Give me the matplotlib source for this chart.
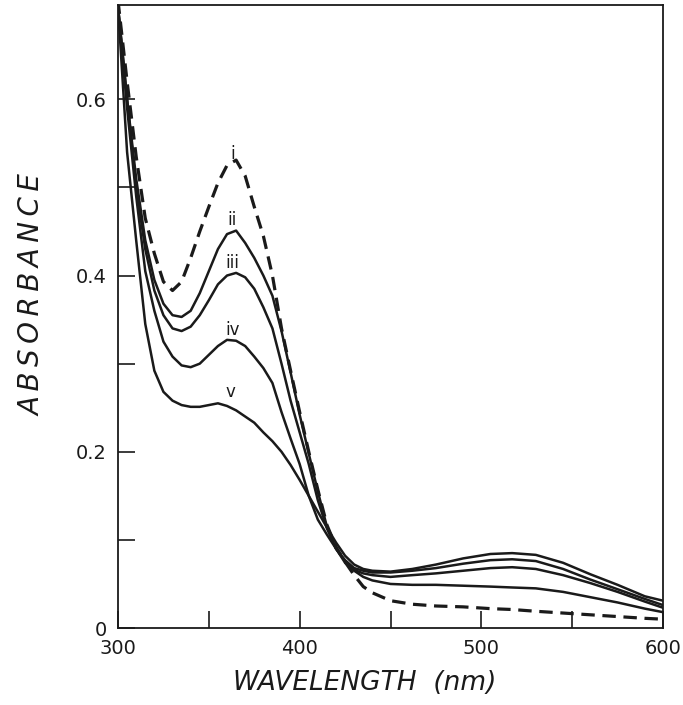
import matplotlib
matplotlib.use("Agg")
import matplotlib.pyplot as plt
from matplotlib.ticker import FixedLocator

# wavelengths (nm) and absorbance
wl = [300, 305, 310, 315, 320, 325, 330, 335, 340, 345, 350, 355, 360, 365,
      370, 375, 380, 385, 390, 395, 400, 405, 410, 415, 420, 425, 430, 435,
      440, 450, 462, 475, 490, 505, 517, 530, 545, 560, 575, 590, 600]

curve_i = [0.712, 0.62, 0.535, 0.465, 0.425, 0.393, 0.383, 0.393, 0.42, 0.45,
           0.478, 0.505, 0.525, 0.531, 0.513, 0.478, 0.445, 0.40, 0.34, 0.292,
           0.245, 0.20, 0.157, 0.117, 0.092, 0.075, 0.06, 0.047, 0.04, 0.031,
           0.027, 0.025, 0.024, 0.022, 0.021, 0.019, 0.017, 0.015, 0.013, 0.011, 0.01]
curve_ii = [0.705, 0.60, 0.51, 0.44, 0.395, 0.368, 0.355, 0.353, 0.36, 0.38,
            0.405, 0.43, 0.447, 0.451, 0.437, 0.42, 0.40, 0.377, 0.337, 0.29,
            0.242, 0.198, 0.155, 0.115, 0.09, 0.076, 0.065, 0.058, 0.054, 0.05,
            0.049, 0.049, 0.048, 0.047, 0.046, 0.045, 0.041, 0.035, 0.029, 0.022, 0.018]
curve_iii = [0.705, 0.60, 0.50, 0.43, 0.383, 0.355, 0.34, 0.337, 0.342, 0.355,
             0.372, 0.39, 0.40, 0.403, 0.398, 0.385, 0.364, 0.34, 0.30, 0.258,
             0.222, 0.186, 0.145, 0.113, 0.09, 0.074, 0.066, 0.062, 0.06, 0.058,
             0.06, 0.062, 0.065, 0.068, 0.069, 0.067, 0.06, 0.051, 0.041, 0.03, 0.023]
curve_iv = [0.705, 0.59, 0.49, 0.405, 0.36, 0.325, 0.308, 0.298, 0.296, 0.30,
            0.31, 0.32, 0.327, 0.326, 0.32, 0.308, 0.295, 0.278, 0.245, 0.215,
            0.186, 0.15, 0.123, 0.106, 0.09, 0.077, 0.068, 0.065, 0.063, 0.063,
            0.065, 0.068, 0.073, 0.077, 0.078, 0.076, 0.067, 0.055, 0.044, 0.033, 0.026]
curve_v = [0.705, 0.54, 0.44, 0.345, 0.292, 0.268, 0.258, 0.253, 0.251, 0.251,
           0.253, 0.255, 0.252, 0.247, 0.24, 0.233, 0.222, 0.212, 0.2, 0.185,
           0.168, 0.15, 0.132, 0.114, 0.097, 0.082, 0.072, 0.067, 0.065, 0.064,
           0.067, 0.072, 0.079, 0.084, 0.085, 0.083, 0.074, 0.061, 0.049, 0.036, 0.031]

curve_names = ["i", "ii", "iii", "iv", "v"]
label_wl = [363, 363, 363, 363, 362]
label_abs = [0.538, 0.463, 0.414, 0.338, 0.268]

fig = plt.figure(figsize=(6.83, 7.05), dpi=100)
ax = fig.add_axes([0.1728, 0.1092, 0.7979, 0.8837])

ink = "#1a1a1a"
ax.plot(wl, curve_i, color=ink, lw=2.3, dashes=(4.2, 2.4),
        dash_capstyle="butt", dash_joinstyle="round")
for ys in (curve_ii, curve_iii, curve_iv, curve_v):
    ax.plot(wl, ys, color=ink, lw=1.8, solid_joinstyle="round")

for name, x, y in zip(curve_names, label_wl, label_abs):
    ax.text(x, y, name, ha="center", va="center", fontsize=12, color=ink)

ax.set_xlim(300, 600)
ax.set_ylim(0, 0.707)

ax.xaxis.set_major_locator(FixedLocator([300, 400, 500, 600]))
ax.xaxis.set_minor_locator(FixedLocator([350, 450, 550]))
ax.yaxis.set_major_locator(FixedLocator([0, 0.2, 0.4, 0.6]))
ax.yaxis.set_minor_locator(FixedLocator([0.1, 0.3, 0.5]))
ax.set_yticklabels(["0", "0.2", "0.4", "0.6"])

ax.tick_params(which="both", direction="in", length=12, width=1.2, color=ink,
               labelsize=14, labelcolor=ink)
ax.tick_params(axis="x", which="both", pad=8)
ax.tick_params(axis="y", which="both", pad=8)
ax.tick_params(top=False, right=False)

for side in ("top", "right", "left", "bottom"):
    ax.spines[side].set_linewidth(1.3)
    ax.spines[side].set_color(ink)

# letter-spaced axis title, like the original lettering
ax.set_ylabel("\u2009".join("ABSORBANCE"), fontsize=20, style="italic", color=ink)
ax.yaxis.set_label_coords(-0.132, 0.535)
ax.set_xlabel("WAVELENGTH  (nm)", fontsize=19, style="italic", color=ink)
ax.xaxis.set_label_coords(0.452, -0.068)

fig.savefig("out.png", dpi=100)
